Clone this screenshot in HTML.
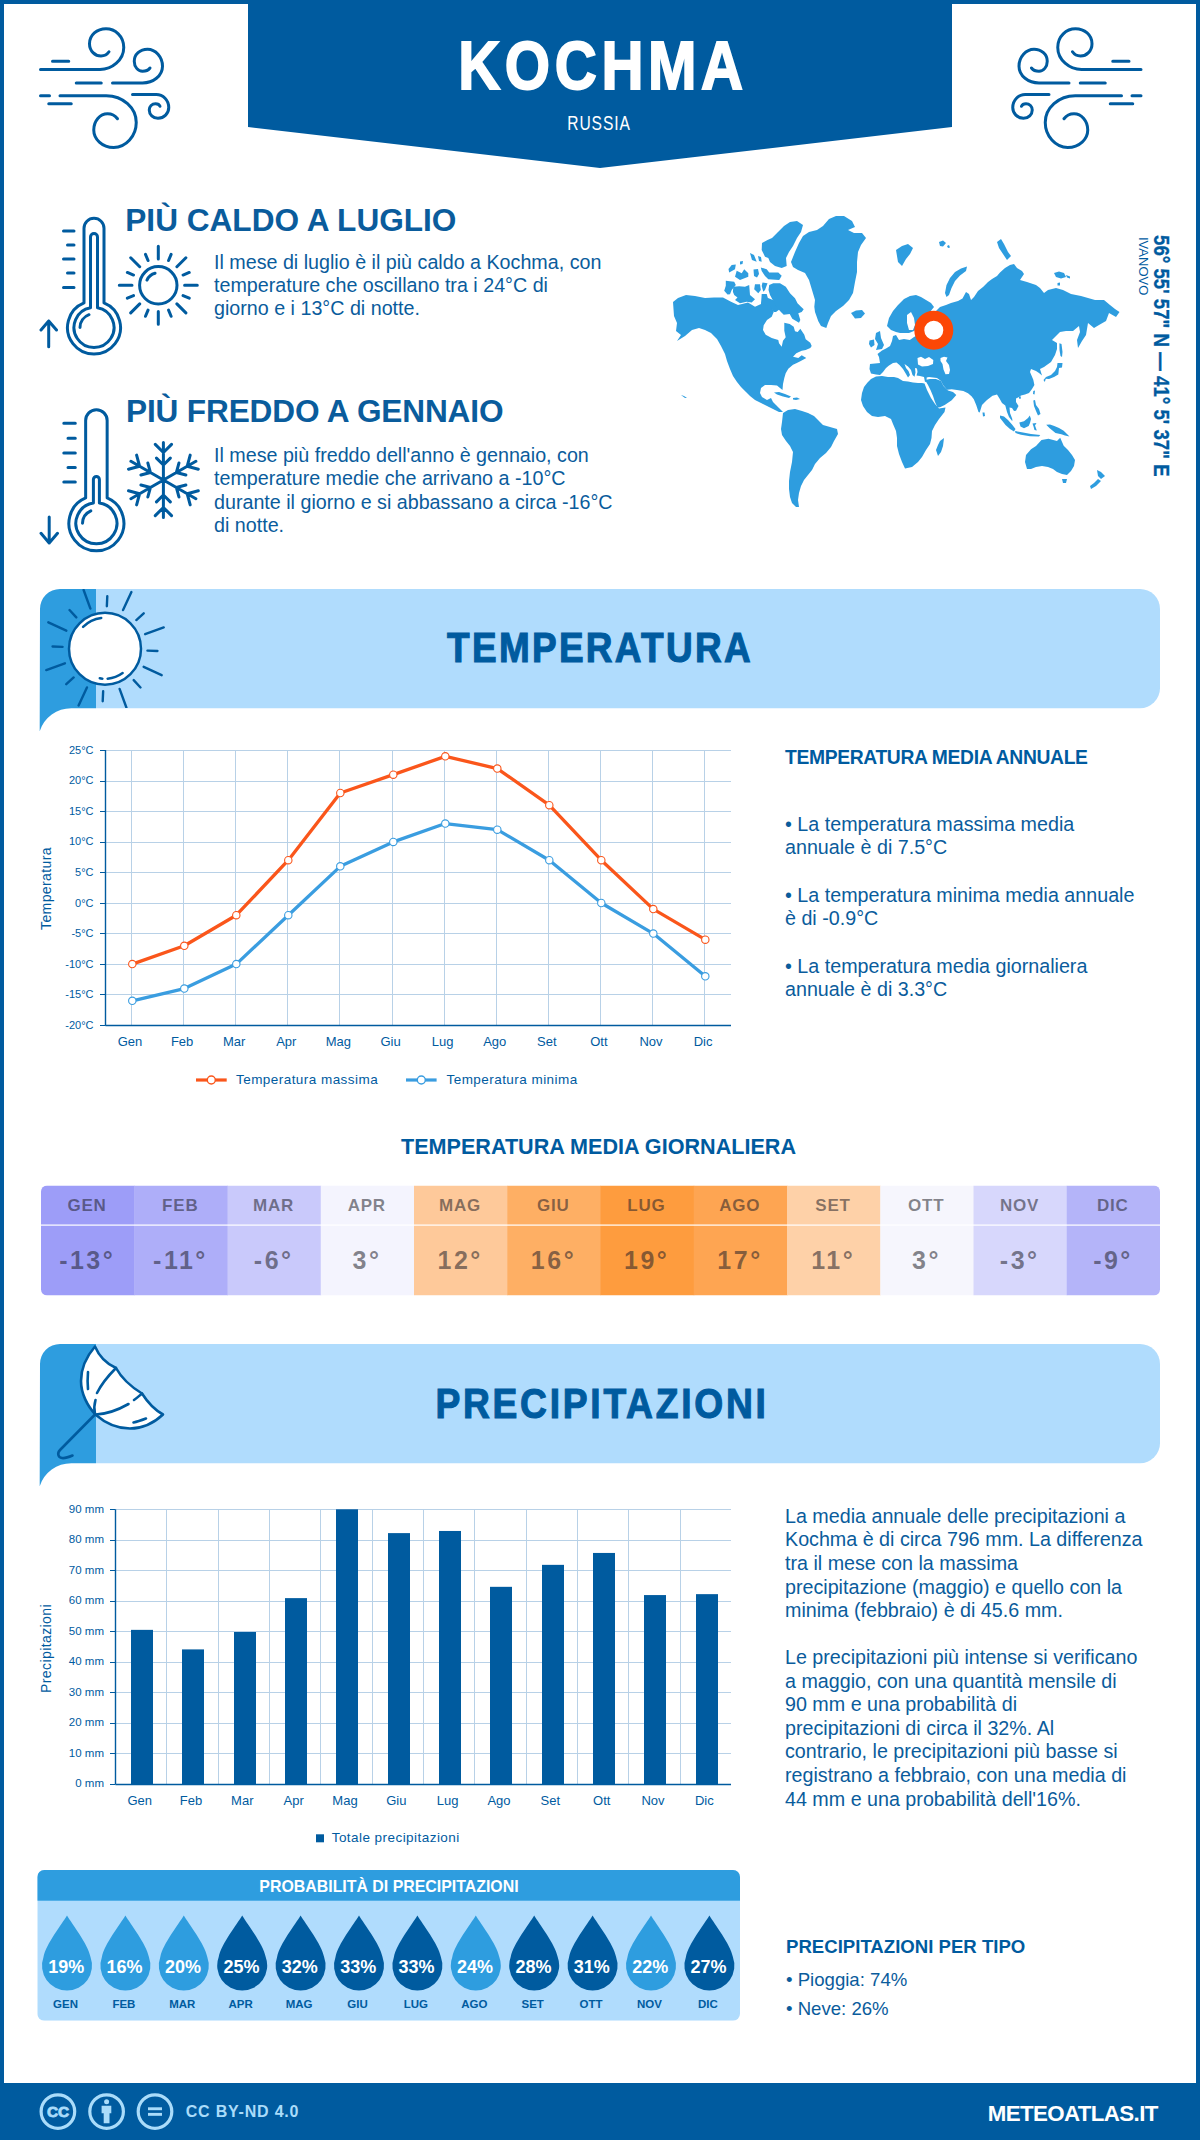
<!DOCTYPE html><html><head><meta charset="utf-8"><style>
*{margin:0;padding:0;box-sizing:border-box}
html,body{width:1200px;height:2140px;overflow:hidden;background:#fff}
body{position:relative;font-family:"Liberation Sans",sans-serif}
.t{position:absolute;white-space:nowrap;line-height:1;font-family:"Liberation Sans",sans-serif}
svg{position:absolute;left:0;top:0}
</style></head><body>
<svg width="1200" height="2140" viewBox="0 0 1200 2140"><rect x="0" y="0" width="1200" height="2140" fill="#005b9f"/><rect x="4" y="4" width="1192" height="2079" fill="#fff"/><polygon points="248,0 952,0 952,127 600,168 248,127" fill="#005b9f"/><path d="M40.5,69.5 H100 C112,69.5 123.75,60 123.75,47.5 C123.75,36 115,28.75 106,28.75 C97,28.75 89.5,35 89.5,43.75 C89.5,51 95,56 101,56 C104.5,56 107.5,54 109,51.75 M52.5,61.25 H68.75 M112.5,83 H142.5 C153,83 162.5,76 162.5,66.25 C162.5,57 155.5,49.25 147.5,49.25 C140,49.25 134.25,54.5 134.25,61.25 C134.25,67 138,71.25 142.5,71.25 C145.5,71.25 148.5,70 150,68 M76.25,83 H101.25 M40.5,95.75 H49.5 M60,95.75 H106.25 C123,95.75 136.25,108 136.25,122.5 C136.25,136 126,147.5 113.75,147.5 C102,147.5 93.75,139 93.75,130 C93.75,121 100,113.75 107.5,113.75 C111.5,113.75 115.5,116 117.5,118.75 M48.75,103.75 H71.25 M132.5,94.5 H156.25 C163,94.5 168.75,100 168.75,107.5 C168.75,113.5 164,118.25 158,118.25 C153,118.25 149.25,114.5 149.25,110 C149.25,106.5 152,103.75 155.5,103.75 C157.5,103.75 159.5,105 160,106.25" fill="none" stroke="#005b9f" stroke-width="3" stroke-linecap="round"/><path d="M40.5,69.5 H100 C112,69.5 123.75,60 123.75,47.5 C123.75,36 115,28.75 106,28.75 C97,28.75 89.5,35 89.5,43.75 C89.5,51 95,56 101,56 C104.5,56 107.5,54 109,51.75 M52.5,61.25 H68.75 M112.5,83 H142.5 C153,83 162.5,76 162.5,66.25 C162.5,57 155.5,49.25 147.5,49.25 C140,49.25 134.25,54.5 134.25,61.25 C134.25,67 138,71.25 142.5,71.25 C145.5,71.25 148.5,70 150,68 M76.25,83 H101.25 M40.5,95.75 H49.5 M60,95.75 H106.25 C123,95.75 136.25,108 136.25,122.5 C136.25,136 126,147.5 113.75,147.5 C102,147.5 93.75,139 93.75,130 C93.75,121 100,113.75 107.5,113.75 C111.5,113.75 115.5,116 117.5,118.75 M48.75,103.75 H71.25 M132.5,94.5 H156.25 C163,94.5 168.75,100 168.75,107.5 C168.75,113.5 164,118.25 158,118.25 C153,118.25 149.25,114.5 149.25,110 C149.25,106.5 152,103.75 155.5,103.75 C157.5,103.75 159.5,105 160,106.25" fill="none" stroke="#005b9f" stroke-width="3" stroke-linecap="round" transform="translate(1181.5,0) scale(-1,1)"/><path d="M84,302.96 V228.3 A10,10 0 0 1 104,228.3 V302.96 A26.5,26.5 0 1 1 84,302.96 Z M90.5,307.81 V237 A3.5,3.5 0 0 1 97.5,237 V307.81 A20,20 0 1 1 90.5,307.81 Z M63.5,231 H74 M67.5,245 H74 M63.5,259 H74 M67.5,273 H74 M63.5,287.5 H74 M48.7,346.7 V321 M41,330 L48.7,321 L56.5,330 M80,327.5 A14,14 0 0 1 89,314.7" fill="none" stroke="#005b9f" stroke-width="3" stroke-linecap="round" stroke-linejoin="round"/><path d="M85.65,497.99 V420.5 A10.75,10.75 0 0 1 107.15,420.5 V497.99 A27.5,27.5 0 1 1 85.65,497.99 Z M93.4,503.02 V479.5 A3,3 0 0 1 99.4,479.5 V503.02 A20.5,20.5 0 1 1 93.4,503.02 Z M63.8,423.3 H75.3 M68,438.3 H75.3 M63.8,453 H75.3 M68,467.5 H75.3 M63.8,482 H75.3 M49.2,517 V543 M41,533.3 L49.2,543 L57.5,533.3 M82.5,523.3 A14,14 0 0 1 90.8,510.8" fill="none" stroke="#005b9f" stroke-width="3" stroke-linecap="round" stroke-linejoin="round"/><circle cx="158.3" cy="285.3" r="18.7" fill="none" stroke="#005b9f" stroke-width="3"/><path d="M184.60,285.30 L197.30,285.30 M183.06,275.04 L189.25,272.48 M176.90,266.70 L185.88,257.72 M168.56,260.54 L171.12,254.35 M158.30,259.00 L158.30,246.30 M148.04,260.54 L145.48,254.35 M139.70,266.70 L130.72,257.72 M133.54,275.04 L127.35,272.48 M132.00,285.30 L119.30,285.30 M133.54,295.56 L127.35,298.12 M139.70,303.90 L130.72,312.88 M148.04,310.06 L145.48,316.25 M158.30,311.60 L158.30,324.30 M168.56,310.06 L171.12,316.25 M176.90,303.90 L185.88,312.88 M183.06,295.56 L189.25,298.12 " fill="none" stroke="#005b9f" stroke-width="3" stroke-linecap="round"/><path d="M146.97,280.02 A12.5,12.5 0 0 1 155.06,273.23" fill="none" stroke="#005b9f" stroke-width="3" stroke-linecap="round"/><path d="M163.40,480.00 L163.40,442.50 M163.40,452.50 L171.53,444.37 M163.40,452.50 L155.27,444.37 M163.40,465.00 L170.33,458.07 M163.40,465.00 L156.47,458.07 M163.40,480.00 L130.92,461.25 M139.58,466.25 L136.61,455.14 M139.58,466.25 L128.48,469.23 M150.41,472.50 L147.87,463.03 M150.41,472.50 L140.94,475.04 M163.40,480.00 L130.92,498.75 M139.58,493.75 L128.48,490.77 M139.58,493.75 L136.61,504.86 M150.41,487.50 L140.94,484.96 M150.41,487.50 L147.87,496.97 M163.40,480.00 L163.40,517.50 M163.40,507.50 L155.27,515.63 M163.40,507.50 L171.53,515.63 M163.40,495.00 L156.47,501.93 M163.40,495.00 L170.33,501.93 M163.40,480.00 L195.88,498.75 M187.22,493.75 L190.19,504.86 M187.22,493.75 L198.32,490.77 M176.39,487.50 L178.93,496.97 M176.39,487.50 L185.86,484.96 M163.40,480.00 L195.88,461.25 M187.22,466.25 L198.32,469.23 M187.22,466.25 L190.19,455.14 M176.39,472.50 L185.86,475.04 M176.39,472.50 L178.93,463.03 " fill="none" stroke="#005b9f" stroke-width="3" stroke-linecap="round"/><polygon points="673,302 678,298 686,295 695,296 705,298 714,297.5 723,297.5 731,301.7 738,305 748,302.5 755,306.7 761,304 761.7,294 766.7,294 769.2,302.5 772,307 773.7,312 771.7,316.7 767,320 763.7,325.3 763,330 765.7,334.7 771.7,338 778.3,340 779,343.3 781.7,346.7 783,340.7 785.7,337.3 784.3,330.7 784.3,322.7 789.7,324 793.7,326.7 795,331.3 797.7,332 800.3,328.7 804.3,334.7 805.7,339.3 810.3,342.7 811.7,346 810.3,348 805.7,350 801.7,350.7 796.3,353.3 793,356.7 798.3,358 801.7,355.3 806.3,358 800.3,361.3 796.3,363.3 793,364.7 788.3,368.7 785.7,373.3 784.3,378 783,384 782.5,390 780,388 777,385.5 771,385 765,385 761,388 760,393 762,397 767,400 771,398 773,402 776,405 779,408 783,412 779,412 773,409 767,406 761,403 755,400 750,396 746,392 741,387 737,382 733,376 730,369 727,361 725,354 721,346 717,339 711,333 705,330 699,328 692,330 685,336 677,341 681,335 676,331 677,323 674,316" fill="#2e9ddf"/><polygon points="761,304 763,298 768,298 773,300 778,304 780,309 776,312 773.7,312 770,306" fill="#2e9ddf"/><polygon points="791,262 795,252 799,243 803,236 809,232 817,230 823,226 829,219 836,216 844,216 852,221 855,227 848,230 854,233 862,233 866,238 861,245 858,252 857,262 857,272 855,282 853,293 849,300 843,306 836,311 831,316 828,323 826.3,328 821,326 818.3,321.3 815,312 814.3,306.7 815,300 812,290 809,280 805,273 798,270 793,267" fill="#2e9ddf"/><polygon points="762,243 767.5,240 772,238 778,232 784,226 790,222 797,221 803,225 801,232 797,238 793,246 789,252 786,258 786.7,266 781.7,268 775,266 770,262 768.3,258 765,256.7 761.7,250" fill="#2e9ddf"/><polygon points="760.8,267.5 766.7,269.2 769.2,272.5 778.3,272.5 781.7,275.7 779.2,280 768.3,279.2 765,276 761.7,271" fill="#2e9ddf"/><polygon points="769.2,285 773.3,283.3 780,283.3 785.8,286.7 790,293.3 795,298.3 797.5,303.3 801,306.7 803.7,309.3 801.7,312 798.3,313.3 800.3,320 799,322.7 792.3,318.7 789.7,314 783.7,314.7 780,311 776,306 773,300.5 770,295 768.5,290" fill="#2e9ddf"/><polygon points="725.8,280.8 734.2,281.7 735.8,285 731.7,290 730,294.2 727.5,294.6 724.2,290.8 725.8,285.8" fill="#2e9ddf"/><polygon points="733.3,286.7 739.2,286.2 745,286.7 749.2,285 750,295 755,299.2 751.7,302.5 746.7,301.7 740,303.3 735,300 737.5,297.5 734.2,295 732.9,291.7" fill="#2e9ddf"/><polygon points="755,284.2 760,284.2 760.8,290 758.3,293.3 754.2,289.2" fill="#2e9ddf"/><polygon points="762.5,282.5 767.5,283.3 765,290 763.3,291.7 761.7,286" fill="#2e9ddf"/><polygon points="731.7,265 735.8,264.6 735,269.2 729.2,272.5 728.5,269" fill="#2e9ddf"/><polygon points="736.7,270.8 741.7,273.3 744.2,269.2 748.3,273.3 748.3,276.7 740,280 735,276.7" fill="#2e9ddf"/><polygon points="753.5,269.5 758,269 759,274 757,277.5 754,276" fill="#2e9ddf"/><polygon points="750,253 754,255 756.7,261.7 752,260" fill="#2e9ddf"/><polygon points="758,256 761,257 761.7,261.7 759,261" fill="#2e9ddf"/><polygon points="740,261.5 743,261 742.5,264 740,264.5" fill="#2e9ddf"/><polygon points="851,313 856,310.5 862,310 865,313.5 861,318 855,318.5" fill="#2e9ddf"/><polygon points="876,333 880,331 881,338 884,345 882,349 876,350 878,344 875,339" fill="#2e9ddf"/><polygon points="869.5,340.5 874,339.5 874.5,345 871,347.5 869,344" fill="#2e9ddf"/><polygon points="896,250 902,246 908,244 913,248 910,254 906,259 902,266 898,262" fill="#2e9ddf"/><polygon points="945,293 946.5,285 950,278 955,272 961,268.5 967,266.5 966,271 960,275.5 955,281 951.5,288 949,295 946.5,297" fill="#2e9ddf"/><polygon points="997,242 1001,239 1004,244 1008,252 1011,256 1007,260 1003,254 999,248" fill="#2e9ddf"/><polygon points="1054,273 1059,271.5 1064,273 1066,277 1061,278.5 1056,277" fill="#2e9ddf"/><polygon points="1066,275 1070,276.5 1070,278.5 1067,277.5" fill="#2e9ddf"/><polygon points="1057.5,283 1060,282.5 1060,285.5 1057.5,285.5" fill="#2e9ddf"/><polygon points="870,364 875,363.5 880,363 879,357 877.5,354 882,350.5 886,348.5 890,346 892,341 893,336 896,335 899,340 904,339 909.8,340 914,337 916.3,335.7 919,331 924,327 929,323 932,317 936,311 940,307 946,305 951,303 958,301 962.5,298.5 966,292 969,294 971,300 974,297 978,291 983,287 988,282 992,279 997,276 1000,272.5 1005,268 1010,265 1014,264 1017,268 1022,271 1024,274 1020,280 1027,282 1036,285 1040,288 1044,293 1048,290 1056,288 1063,290 1071,294 1081,296 1088,298 1095,300 1104,300 1110,305 1115,309 1119.5,312 1116,317 1109,313 1106,321 1099,325 1094,328 1088,323 1087,329 1086,335 1082,341 1078,348 1077,340 1080,332 1079,326 1073,331 1066,331 1060,332 1056,336 1052,340 1057,343 1057,349 1055,355 1051,362 1044,367 1040,369 1042,375.5 1039,373 1036,371 1031,369 1030,372 1033.3,379.8 1034.4,385 1032,389 1029,393 1025,394.5 1021,395.5 1019,397 1016,398.5 1016,402 1018.5,406 1016,410.8 1014,411 1012,408 1009.5,407.5 1010,413 1012.3,419 1012.3,421.3 1009,417 1007,412 1005.3,405.5 1002,403 999.5,398.5 997,394.5 992.5,395.7 986.7,400.3 982,405 979.7,412.6 978.5,412 976.2,405 973.8,399.2 971.5,396.3 968,393.3 963.3,391 957,390 951.7,389.3 947,389.8 943,385 941,381 937,378 933,377.5 929,377 926.7,377.5 926.5,381.5 925,382 924,377 920,376 916.5,375.5 917.5,372 917,368.5 915,368 915.5,372.5 914.5,376.7 912.5,375 911,370 908,366.5 904.5,364 906,368 908.5,371 910,375 908,377.5 906,374 903,369 899.5,365 896.5,362.5 893,363 889,365.5 886,368 883,372 880,375 876,374.5 871,373.5 869.5,369" fill="#2e9ddf"/><polygon points="887,326 889,318 893,311 898,305 904,299 910,296 916,295 921,297 926,300 931,303 934,307 930,312 925,316 921,321 918,327 914,331 909,333 904,333 900,333 896,332 891,330" fill="#2e9ddf"/><polygon points="925,380 928,385 930.5,390 933,396 935,402 937.5,407.5 940,407.3 944.7,405 951.7,400.3 956.3,395 953,392 948,390.5 943.5,386 941,381 936,379 930,379" fill="#2e9ddf"/><polygon points="862,393 864,387 867.5,382.5 871,379 876,376.5 882,376 888,377 894,377 898,378 903,381 908,381.5 913,382.5 918,383 922,383 924.5,383.5 927,390 931,398 935,404 939,408.5 945.5,407.4 944.5,412 939,419 935,425 932,431 931.5,438 930,444 926,450 922,457 918,462 912,467 905,468.5 902,462 899,454 897,446 897,438 896,431 893,424 891,419 885,416 878,417 872,416 867,412 863,406 861,400" fill="#2e9ddf"/><polygon points="940,441 944,438 943,446 941,452 938,456 936,450 938,445" fill="#2e9ddf"/><polygon points="783,413 788,410 795,409 802,411 808,413 814,416 818,420 823,425 830,427 837,429 838,434 834,441 831,447 826,453 820,458 815,464 812,470 808,475 804,480 801,486 799,493 798,500 799,507 796,507 792,503 790,497 789,489 789,481 790,472 792,462 793,452 790,446 786,441 782,435 781,429 782,422" fill="#2e9ddf"/><polygon points="982.5,412.5 984.5,412.5 985,416 983,416.5" fill="#2e9ddf"/><polygon points="1000,415.5 1004,416.5 1008,420 1012,424.5 1015.5,429 1014,431.5 1010,429 1005.5,425 1002,420.5 1000,418" fill="#2e9ddf"/><polygon points="1015,431 1021.7,432.3 1031,434 1040.3,435 1039,436.5 1030,436.3 1021,434.8 1015.5,433" fill="#2e9ddf"/><polygon points="1019.3,422.5 1024,421.3 1028,418 1029.8,415.5 1031,419 1030,423 1028.7,426 1024,428.3 1020.5,426.5" fill="#2e9ddf"/><polygon points="1032.5,423.5 1036.5,423 1035,425.5 1036.8,430.5 1034.5,430 1033.5,426.5" fill="#2e9ddf"/><polygon points="1046.2,424.8 1050,424.5 1054.3,426 1059,428 1063.7,430.7 1067,434 1069.5,436.5 1065,435.5 1061.3,434.2 1055.5,433 1049.7,428.3" fill="#2e9ddf"/><polygon points="1033.3,400.5 1035,400 1036,405 1039,409 1040.5,414 1038,415.5 1036,411 1034,406" fill="#2e9ddf"/><polygon points="1033.3,391 1035,390.5 1034.5,394.5 1033,394" fill="#2e9ddf"/><polygon points="1019,396.5 1021,396.5 1020.5,399 1019,398.5" fill="#2e9ddf"/><polygon points="1057.5,363 1062.5,363 1062,367.5 1059,368 1058.3,374.6 1054,377 1049,379 1045.8,378.75 1044.8,381.9 1043.5,380 1046,377 1051,375 1055,371 1057,367" fill="#2e9ddf"/><polygon points="1059.4,343.3 1061.5,344 1062.5,352 1062,357 1060.5,356 1059.5,350" fill="#2e9ddf"/><polygon points="1025,462 1026,455 1031,449.3 1036,446 1041.5,440 1048.5,438.8 1053.2,440 1057,441 1060.2,437.7 1063.7,445.8 1068,450 1072,455 1075,460 1074,466 1071,471 1067,475 1062,474 1057,472 1053,469 1048,467 1042,466 1036,467 1031,469 1027,469" fill="#2e9ddf"/><polygon points="1062,479 1067,479 1066,483 1063,483" fill="#2e9ddf"/><polygon points="1097,470 1101,472 1105,476 1101,479 1098,476" fill="#2e9ddf"/><polygon points="1098,479 1101,481 1096,486 1091,489 1090,486 1094,483" fill="#2e9ddf"/><polygon points="681,395 684,396 687,398 685,398" fill="#2e9ddf"/><polygon points="774,392.5 779,392 785,394 791,396.5 789,398 783,396.5 777,394.5" fill="#2e9ddf"/><polygon points="793,398 797,397.5 800,399 796,400 793,399.5" fill="#2e9ddf"/><polygon points="939,242 943,240.5 946,243 943,246.5 940,246" fill="#2e9ddf"/><polygon points="947,246 949,245 950,247.5 948,248" fill="#2e9ddf"/><polygon points="917.5,358 921,356.7 925,359 929,357 933.3,360 933,364 928,366 922,366.5 918,364.5" fill="#fff"/><polygon points="940.5,358 944,356.7 947.5,357.5 946,361 949,365 950,370 949,374 945.5,374.3 943.5,369.5 942.5,364 940.5,361" fill="#fff"/><polygon points="907,315 911,312 914,318 915,325 913,330 909,330 907,323" fill="#fff"/><circle cx="933.8" cy="330.2" r="14.5" fill="#fff" stroke="#fc4706" stroke-width="10"/><path d="M40,609 A20,20 0 0 1 60,589 H96 V708.2 H71.3 A33.2,33.2 0 0 0 39.7,731.3000000000001 Z" fill="#2e9ddf"/><path d="M96,589 H1140 A20,20 0 0 1 1160,609 V688.2 A20,20 0 0 1 1140,708.2 H96 Z" fill="#b0dcfd"/><path d="M40,1364 A20,20 0 0 1 60,1344 H96 V1463.2 H71.3 A33.2,33.2 0 0 0 39.7,1486.3 Z" fill="#2e9ddf"/><path d="M96,1344 H1140 A20,20 0 0 1 1160,1364 V1443.2 A20,20 0 0 1 1140,1463.2 H96 Z" fill="#b0dcfd"/><circle cx="105" cy="648.75" r="36" fill="#fff" stroke="#005b9f" stroke-width="2.5"/><clipPath id="sb"><rect x="0" y="589" width="400" height="119"/></clipPath><path clip-path="url(#sb)" d="M145.12,634.15 L163.73,627.37 M136.33,620.04 L143.71,613.28 M123.05,610.05 L131.41,592.11 M106.85,606.29 L107.29,596.30 M90.40,608.63 L83.62,590.02 M76.29,617.42 L69.53,610.04 M66.30,630.70 L48.36,622.34 M62.54,646.90 L52.55,646.46 M64.88,663.35 L46.27,670.13 M73.67,677.46 L66.29,684.22 M86.95,687.45 L78.59,705.39 M103.15,691.21 L102.71,701.20 M119.60,688.87 L126.38,707.48 M133.71,680.08 L140.47,687.46 M143.70,666.80 L161.64,675.16 M147.46,650.60 L157.45,651.04 " fill="none" stroke="#005b9f" stroke-width="2.4" stroke-linecap="round"/><path d="M83.08,626.83 A31,31 0 0 1 101.22,617.98" fill="none" stroke="#005b9f" stroke-width="2.5" stroke-linecap="round"/><path d="M107.61,678.64 A30,30 0 0 0 122.63,673.02" fill="none" stroke="#005b9f" stroke-width="2.5" stroke-linecap="round"/><path d="M99.79,678.29 A30,30 0 0 0 102.39,678.64" fill="none" stroke="#005b9f" stroke-width="2.5" stroke-linecap="round"/><path d="M95,1346.5 C86,1357 81,1369 81,1381 C81,1393 87,1406 96,1415 C104,1422 116,1428.5 130,1428.5 C143,1428.5 155,1422 163,1414.5 C155,1410 148,1403 142,1393.5 C133,1388 122,1379 116,1368 C107,1364 99,1356 95,1346.5 Z" fill="#fff" stroke="#005b9f" stroke-width="2.6" stroke-linejoin="round"/><path d="M116,1368 C108,1376 101,1385 97,1393 M95.5,1400 C94,1405 94,1410 95,1414.5 M142,1393.5 C139,1396 137,1398 134,1400 M128.5,1404 C118,1410 106,1414 96,1414.5 M88,1372 C87.5,1378 87.5,1384 88,1389 M133.5,1422.5 C138,1421.5 142,1420 146,1418.5 M95,1414.5 L60,1450 C57,1453 58,1457.5 62,1458 C65,1458.5 69,1457 72.5,1455.5" fill="none" stroke="#005b9f" stroke-width="2.6" stroke-linecap="round"/></svg>
<div class="t" style="left:3.3px;width:1200px;text-align:center;top:32.3px;font-size:68.5px;font-weight:700;color:#fff;letter-spacing:5.4px;transform:scaleX(0.85);-webkit-text-stroke:1.9px #fff;">KOCHMA</div>
<div class="t" style="left:-0.6px;width:1200px;text-align:center;top:114.3px;font-size:19.5px;font-weight:400;color:#fff;letter-spacing:1.1px;transform:scaleX(0.8);">RUSSIA</div>
<div class="t" style="left:125.3px;top:205.3px;font-size:31.6px;font-weight:700;color:#0a5c9c;letter-spacing:0px;">PIÙ CALDO A LUGLIO</div>
<div class="t" style="left:214.0px;top:252.7px;font-size:19.7px;font-weight:400;color:#0a5c9c;">Il mese di luglio è il più caldo a Kochma, con</div>
<div class="t" style="left:214.0px;top:275.8px;font-size:19.7px;font-weight:400;color:#0a5c9c;">temperature che oscillano tra i 24°C di</div>
<div class="t" style="left:214.0px;top:298.9px;font-size:19.7px;font-weight:400;color:#0a5c9c;">giorno e i 13°C di notte.</div>
<div class="t" style="left:126.0px;top:396.3px;font-size:31.6px;font-weight:700;color:#0a5c9c;letter-spacing:-0.15px;">PIÙ FREDDO A GENNAIO</div>
<div class="t" style="left:214.0px;top:445.9px;font-size:19.7px;font-weight:400;color:#0a5c9c;">Il mese più freddo dell'anno è gennaio, con</div>
<div class="t" style="left:214.0px;top:469.4px;font-size:19.7px;font-weight:400;color:#0a5c9c;">temperature medie che arrivano a -10°C</div>
<div class="t" style="left:214.0px;top:492.8px;font-size:19.7px;font-weight:400;color:#0a5c9c;">durante il giorno e si abbassano a circa -16°C</div>
<div class="t" style="left:214.0px;top:516.3px;font-size:19.7px;font-weight:400;color:#0a5c9c;">di notte.</div>

<div class="t" style="left:1160px;top:235px;font-size:21.5px;font-weight:700;color:#005b9f;transform-origin:0 0;transform:rotate(90deg) translate(0,-50%) scaleX(0.868);letter-spacing:0px;-webkit-text-stroke:0.3px #005b9f">56° 55' 57" N — 41° 5' 37" E</div>
<div class="t" style="left:1142.5px;top:236.5px;font-size:13px;font-weight:400;color:#005b9f;transform-origin:0 0;transform:rotate(90deg) translate(0,-50%)">IVANOVO</div>
<div class="t" style="left:0.0px;width:1200px;text-align:center;top:626.8px;font-size:42px;font-weight:700;color:#005b9f;letter-spacing:2.6px;transform:scaleX(0.88);-webkit-text-stroke:1.1px #005b9f;">TEMPERATURA</div>
<div class="t" style="left:2.3px;width:1200px;text-align:center;top:1383.2px;font-size:42.3px;font-weight:700;color:#005b9f;letter-spacing:3.1px;transform:scaleX(0.88);-webkit-text-stroke:1.1px #005b9f;">PRECIPITAZIONI</div>
<svg width="1200" height="2140" viewBox="0 0 1200 2140"><line x1="105.7" y1="750.50" x2="731" y2="750.50" stroke="#b8d1e7" stroke-width="1"/><line x1="100" y1="750.50" x2="105.7" y2="750.50" stroke="#005b9f" stroke-width="1"/><line x1="105.7" y1="781.50" x2="731" y2="781.50" stroke="#b8d1e7" stroke-width="1"/><line x1="100" y1="781.50" x2="105.7" y2="781.50" stroke="#005b9f" stroke-width="1"/><line x1="105.7" y1="811.50" x2="731" y2="811.50" stroke="#b8d1e7" stroke-width="1"/><line x1="100" y1="811.50" x2="105.7" y2="811.50" stroke="#005b9f" stroke-width="1"/><line x1="105.7" y1="842.50" x2="731" y2="842.50" stroke="#b8d1e7" stroke-width="1"/><line x1="100" y1="842.50" x2="105.7" y2="842.50" stroke="#005b9f" stroke-width="1"/><line x1="105.7" y1="872.50" x2="731" y2="872.50" stroke="#b8d1e7" stroke-width="1"/><line x1="100" y1="872.50" x2="105.7" y2="872.50" stroke="#005b9f" stroke-width="1"/><line x1="105.7" y1="903.50" x2="731" y2="903.50" stroke="#b8d1e7" stroke-width="1"/><line x1="100" y1="903.50" x2="105.7" y2="903.50" stroke="#005b9f" stroke-width="1"/><line x1="105.7" y1="933.50" x2="731" y2="933.50" stroke="#b8d1e7" stroke-width="1"/><line x1="100" y1="933.50" x2="105.7" y2="933.50" stroke="#005b9f" stroke-width="1"/><line x1="105.7" y1="964.50" x2="731" y2="964.50" stroke="#b8d1e7" stroke-width="1"/><line x1="100" y1="964.50" x2="105.7" y2="964.50" stroke="#005b9f" stroke-width="1"/><line x1="105.7" y1="994.50" x2="731" y2="994.50" stroke="#b8d1e7" stroke-width="1"/><line x1="100" y1="994.50" x2="105.7" y2="994.50" stroke="#005b9f" stroke-width="1"/><line x1="105.7" y1="1025.50" x2="731" y2="1025.50" stroke="#b8d1e7" stroke-width="1"/><line x1="100" y1="1025.50" x2="105.7" y2="1025.50" stroke="#005b9f" stroke-width="1"/><line x1="131.50" y1="750" x2="131.50" y2="1025" stroke="#b8d1e7" stroke-width="1"/><line x1="183.50" y1="750" x2="183.50" y2="1025" stroke="#b8d1e7" stroke-width="1"/><line x1="235.50" y1="750" x2="235.50" y2="1025" stroke="#b8d1e7" stroke-width="1"/><line x1="287.50" y1="750" x2="287.50" y2="1025" stroke="#b8d1e7" stroke-width="1"/><line x1="339.50" y1="750" x2="339.50" y2="1025" stroke="#b8d1e7" stroke-width="1"/><line x1="392.50" y1="750" x2="392.50" y2="1025" stroke="#b8d1e7" stroke-width="1"/><line x1="444.50" y1="750" x2="444.50" y2="1025" stroke="#b8d1e7" stroke-width="1"/><line x1="496.50" y1="750" x2="496.50" y2="1025" stroke="#b8d1e7" stroke-width="1"/><line x1="548.50" y1="750" x2="548.50" y2="1025" stroke="#b8d1e7" stroke-width="1"/><line x1="600.50" y1="750" x2="600.50" y2="1025" stroke="#b8d1e7" stroke-width="1"/><line x1="652.50" y1="750" x2="652.50" y2="1025" stroke="#b8d1e7" stroke-width="1"/><line x1="704.50" y1="750" x2="704.50" y2="1025" stroke="#b8d1e7" stroke-width="1"/><line x1="105.5" y1="750" x2="105.5" y2="1025.5" stroke="#005b9f" stroke-width="1.4"/><line x1="105.5" y1="1025.5" x2="731" y2="1025.5" stroke="#005b9f" stroke-width="1.4"/><polyline points="132.30,964.11 184.30,945.78 236.30,915.22 288.30,860.22 340.30,793.00 393.30,774.67 445.30,756.34 497.30,768.56 549.30,805.22 601.30,860.22 653.30,909.11 705.30,939.67" fill="none" stroke="#fa561b" stroke-width="3.3" stroke-linejoin="round"/><circle cx="132.30" cy="964.11" r="3.7" fill="#fff" stroke="#fa561b" stroke-width="1.1"/><circle cx="184.30" cy="945.78" r="3.7" fill="#fff" stroke="#fa561b" stroke-width="1.1"/><circle cx="236.30" cy="915.22" r="3.7" fill="#fff" stroke="#fa561b" stroke-width="1.1"/><circle cx="288.30" cy="860.22" r="3.7" fill="#fff" stroke="#fa561b" stroke-width="1.1"/><circle cx="340.30" cy="793.00" r="3.7" fill="#fff" stroke="#fa561b" stroke-width="1.1"/><circle cx="393.30" cy="774.67" r="3.7" fill="#fff" stroke="#fa561b" stroke-width="1.1"/><circle cx="445.30" cy="756.34" r="3.7" fill="#fff" stroke="#fa561b" stroke-width="1.1"/><circle cx="497.30" cy="768.56" r="3.7" fill="#fff" stroke="#fa561b" stroke-width="1.1"/><circle cx="549.30" cy="805.22" r="3.7" fill="#fff" stroke="#fa561b" stroke-width="1.1"/><circle cx="601.30" cy="860.22" r="3.7" fill="#fff" stroke="#fa561b" stroke-width="1.1"/><circle cx="653.30" cy="909.11" r="3.7" fill="#fff" stroke="#fa561b" stroke-width="1.1"/><circle cx="705.30" cy="939.67" r="3.7" fill="#fff" stroke="#fa561b" stroke-width="1.1"/><polyline points="132.30,1000.78 184.30,988.55 236.30,964.11 288.30,915.22 340.30,866.33 393.30,841.89 445.30,823.56 497.30,829.67 549.30,860.22 601.30,903.00 653.30,933.55 705.30,976.33" fill="none" stroke="#3a9de0" stroke-width="3.3" stroke-linejoin="round"/><circle cx="132.30" cy="1000.78" r="3.7" fill="#fff" stroke="#3a9de0" stroke-width="1.1"/><circle cx="184.30" cy="988.55" r="3.7" fill="#fff" stroke="#3a9de0" stroke-width="1.1"/><circle cx="236.30" cy="964.11" r="3.7" fill="#fff" stroke="#3a9de0" stroke-width="1.1"/><circle cx="288.30" cy="915.22" r="3.7" fill="#fff" stroke="#3a9de0" stroke-width="1.1"/><circle cx="340.30" cy="866.33" r="3.7" fill="#fff" stroke="#3a9de0" stroke-width="1.1"/><circle cx="393.30" cy="841.89" r="3.7" fill="#fff" stroke="#3a9de0" stroke-width="1.1"/><circle cx="445.30" cy="823.56" r="3.7" fill="#fff" stroke="#3a9de0" stroke-width="1.1"/><circle cx="497.30" cy="829.67" r="3.7" fill="#fff" stroke="#3a9de0" stroke-width="1.1"/><circle cx="549.30" cy="860.22" r="3.7" fill="#fff" stroke="#3a9de0" stroke-width="1.1"/><circle cx="601.30" cy="903.00" r="3.7" fill="#fff" stroke="#3a9de0" stroke-width="1.1"/><circle cx="653.30" cy="933.55" r="3.7" fill="#fff" stroke="#3a9de0" stroke-width="1.1"/><circle cx="705.30" cy="976.33" r="3.7" fill="#fff" stroke="#3a9de0" stroke-width="1.1"/><line x1="196" y1="1080" x2="226.7" y2="1080" stroke="#fa561b" stroke-width="3.2"/><circle cx="211.3" cy="1080" r="4" fill="#fff" stroke="#fa561b" stroke-width="1.4"/><line x1="406" y1="1080" x2="436.6" y2="1080" stroke="#3a9de0" stroke-width="3.2"/><circle cx="421.3" cy="1080" r="4" fill="#fff" stroke="#3a9de0" stroke-width="1.4"/><line x1="115" y1="1784.50" x2="731" y2="1784.50" stroke="#b8d1e7" stroke-width="1"/><line x1="110" y1="1784.50" x2="115" y2="1784.50" stroke="#005b9f" stroke-width="1"/><line x1="115" y1="1753.50" x2="731" y2="1753.50" stroke="#b8d1e7" stroke-width="1"/><line x1="110" y1="1753.50" x2="115" y2="1753.50" stroke="#005b9f" stroke-width="1"/><line x1="115" y1="1723.50" x2="731" y2="1723.50" stroke="#b8d1e7" stroke-width="1"/><line x1="110" y1="1723.50" x2="115" y2="1723.50" stroke="#005b9f" stroke-width="1"/><line x1="115" y1="1692.50" x2="731" y2="1692.50" stroke="#b8d1e7" stroke-width="1"/><line x1="110" y1="1692.50" x2="115" y2="1692.50" stroke="#005b9f" stroke-width="1"/><line x1="115" y1="1662.50" x2="731" y2="1662.50" stroke="#b8d1e7" stroke-width="1"/><line x1="110" y1="1662.50" x2="115" y2="1662.50" stroke="#005b9f" stroke-width="1"/><line x1="115" y1="1631.50" x2="731" y2="1631.50" stroke="#b8d1e7" stroke-width="1"/><line x1="110" y1="1631.50" x2="115" y2="1631.50" stroke="#005b9f" stroke-width="1"/><line x1="115" y1="1601.50" x2="731" y2="1601.50" stroke="#b8d1e7" stroke-width="1"/><line x1="110" y1="1601.50" x2="115" y2="1601.50" stroke="#005b9f" stroke-width="1"/><line x1="115" y1="1570.50" x2="731" y2="1570.50" stroke="#b8d1e7" stroke-width="1"/><line x1="110" y1="1570.50" x2="115" y2="1570.50" stroke="#005b9f" stroke-width="1"/><line x1="115" y1="1540.50" x2="731" y2="1540.50" stroke="#b8d1e7" stroke-width="1"/><line x1="110" y1="1540.50" x2="115" y2="1540.50" stroke="#005b9f" stroke-width="1"/><line x1="115" y1="1509.50" x2="731" y2="1509.50" stroke="#b8d1e7" stroke-width="1"/><line x1="110" y1="1509.50" x2="115" y2="1509.50" stroke="#005b9f" stroke-width="1"/><line x1="166.50" y1="1509.3" x2="166.50" y2="1784" stroke="#b8d1e7" stroke-width="1"/><line x1="218.50" y1="1509.3" x2="218.50" y2="1784" stroke="#b8d1e7" stroke-width="1"/><line x1="269.50" y1="1509.3" x2="269.50" y2="1784" stroke="#b8d1e7" stroke-width="1"/><line x1="320.50" y1="1509.3" x2="320.50" y2="1784" stroke="#b8d1e7" stroke-width="1"/><line x1="372.50" y1="1509.3" x2="372.50" y2="1784" stroke="#b8d1e7" stroke-width="1"/><line x1="423.50" y1="1509.3" x2="423.50" y2="1784" stroke="#b8d1e7" stroke-width="1"/><line x1="474.50" y1="1509.3" x2="474.50" y2="1784" stroke="#b8d1e7" stroke-width="1"/><line x1="526.50" y1="1509.3" x2="526.50" y2="1784" stroke="#b8d1e7" stroke-width="1"/><line x1="577.50" y1="1509.3" x2="577.50" y2="1784" stroke="#b8d1e7" stroke-width="1"/><line x1="628.50" y1="1509.3" x2="628.50" y2="1784" stroke="#b8d1e7" stroke-width="1"/><line x1="680.50" y1="1509.3" x2="680.50" y2="1784" stroke="#b8d1e7" stroke-width="1"/><rect x="131" y="1629.86" width="22" height="154.14" fill="#005b9f"/><rect x="182" y="1649.40" width="22" height="134.60" fill="#005b9f"/><rect x="234" y="1632.00" width="22" height="152.00" fill="#005b9f"/><rect x="285" y="1598.12" width="22" height="185.88" fill="#005b9f"/><rect x="336" y="1509.30" width="22" height="274.70" fill="#005b9f"/><rect x="388" y="1533.11" width="22" height="250.89" fill="#005b9f"/><rect x="439" y="1530.97" width="22" height="253.03" fill="#005b9f"/><rect x="490" y="1586.83" width="22" height="197.17" fill="#005b9f"/><rect x="542" y="1564.85" width="22" height="219.15" fill="#005b9f"/><rect x="593" y="1552.95" width="22" height="231.05" fill="#005b9f"/><rect x="644" y="1595.07" width="22" height="188.93" fill="#005b9f"/><rect x="696" y="1594.15" width="22" height="189.85" fill="#005b9f"/><line x1="115.5" y1="1509.3" x2="115.5" y2="1784.5" stroke="#005b9f" stroke-width="1.4"/><line x1="115.5" y1="1784.5" x2="731" y2="1784.5" stroke="#005b9f" stroke-width="1.4"/><rect x="316" y="1834.3" width="8" height="8" fill="#005b9f"/></svg>
<div class="t" style="right:1106.5px;text-align:right;top:744.7px;font-size:11px;font-weight:400;color:#005b9f;">25°C</div>
<div class="t" style="right:1106.5px;text-align:right;top:775.2px;font-size:11px;font-weight:400;color:#005b9f;">20°C</div>
<div class="t" style="right:1106.5px;text-align:right;top:805.8px;font-size:11px;font-weight:400;color:#005b9f;">15°C</div>
<div class="t" style="right:1106.5px;text-align:right;top:836.4px;font-size:11px;font-weight:400;color:#005b9f;">10°C</div>
<div class="t" style="right:1106.5px;text-align:right;top:866.9px;font-size:11px;font-weight:400;color:#005b9f;">5°C</div>
<div class="t" style="right:1106.5px;text-align:right;top:897.5px;font-size:11px;font-weight:400;color:#005b9f;">0°C</div>
<div class="t" style="right:1106.5px;text-align:right;top:928.0px;font-size:11px;font-weight:400;color:#005b9f;">-5°C</div>
<div class="t" style="right:1106.5px;text-align:right;top:958.6px;font-size:11px;font-weight:400;color:#005b9f;">-10°C</div>
<div class="t" style="right:1106.5px;text-align:right;top:989.1px;font-size:11px;font-weight:400;color:#005b9f;">-15°C</div>
<div class="t" style="right:1106.5px;text-align:right;top:1019.7px;font-size:11px;font-weight:400;color:#005b9f;">-20°C</div>
<div class="t" style="left:-470.0px;width:1200px;text-align:center;top:1035.0px;font-size:13px;font-weight:400;color:#005b9f;">Gen</div>
<div class="t" style="left:-417.9px;width:1200px;text-align:center;top:1035.0px;font-size:13px;font-weight:400;color:#005b9f;">Feb</div>
<div class="t" style="left:-365.8px;width:1200px;text-align:center;top:1035.0px;font-size:13px;font-weight:400;color:#005b9f;">Mar</div>
<div class="t" style="left:-313.7px;width:1200px;text-align:center;top:1035.0px;font-size:13px;font-weight:400;color:#005b9f;">Apr</div>
<div class="t" style="left:-261.6px;width:1200px;text-align:center;top:1035.0px;font-size:13px;font-weight:400;color:#005b9f;">Mag</div>
<div class="t" style="left:-209.5px;width:1200px;text-align:center;top:1035.0px;font-size:13px;font-weight:400;color:#005b9f;">Giu</div>
<div class="t" style="left:-157.4px;width:1200px;text-align:center;top:1035.0px;font-size:13px;font-weight:400;color:#005b9f;">Lug</div>
<div class="t" style="left:-105.3px;width:1200px;text-align:center;top:1035.0px;font-size:13px;font-weight:400;color:#005b9f;">Ago</div>
<div class="t" style="left:-53.2px;width:1200px;text-align:center;top:1035.0px;font-size:13px;font-weight:400;color:#005b9f;">Set</div>
<div class="t" style="left:-1.1px;width:1200px;text-align:center;top:1035.0px;font-size:13px;font-weight:400;color:#005b9f;">Ott</div>
<div class="t" style="left:51.0px;width:1200px;text-align:center;top:1035.0px;font-size:13px;font-weight:400;color:#005b9f;">Nov</div>
<div class="t" style="left:103.1px;width:1200px;text-align:center;top:1035.0px;font-size:13px;font-weight:400;color:#005b9f;">Dic</div>
<div class="t" style="left:-4px;top:881.5px;width:100px;text-align:center;font-size:14px;letter-spacing:0.4px;color:#005b9f;transform:rotate(-90deg);line-height:13px">Temperatura</div>
<div class="t" style="left:236.0px;top:1073.1px;font-size:13.5px;font-weight:400;color:#005b9f;letter-spacing:0.45px;">Temperatura massima</div>
<div class="t" style="left:446.5px;top:1073.1px;font-size:13.5px;font-weight:400;color:#005b9f;letter-spacing:0.45px;">Temperatura minima</div>
<div class="t" style="right:1096.0px;text-align:right;top:1778.3px;font-size:11.5px;font-weight:400;color:#005b9f;">0 mm</div>
<div class="t" style="right:1096.0px;text-align:right;top:1747.7px;font-size:11.5px;font-weight:400;color:#005b9f;">10 mm</div>
<div class="t" style="right:1096.0px;text-align:right;top:1717.2px;font-size:11.5px;font-weight:400;color:#005b9f;">20 mm</div>
<div class="t" style="right:1096.0px;text-align:right;top:1686.7px;font-size:11.5px;font-weight:400;color:#005b9f;">30 mm</div>
<div class="t" style="right:1096.0px;text-align:right;top:1656.2px;font-size:11.5px;font-weight:400;color:#005b9f;">40 mm</div>
<div class="t" style="right:1096.0px;text-align:right;top:1625.7px;font-size:11.5px;font-weight:400;color:#005b9f;">50 mm</div>
<div class="t" style="right:1096.0px;text-align:right;top:1595.1px;font-size:11.5px;font-weight:400;color:#005b9f;">60 mm</div>
<div class="t" style="right:1096.0px;text-align:right;top:1564.6px;font-size:11.5px;font-weight:400;color:#005b9f;">70 mm</div>
<div class="t" style="right:1096.0px;text-align:right;top:1534.1px;font-size:11.5px;font-weight:400;color:#005b9f;">80 mm</div>
<div class="t" style="right:1096.0px;text-align:right;top:1503.6px;font-size:11.5px;font-weight:400;color:#005b9f;">90 mm</div>
<div class="t" style="left:-460.3px;width:1200px;text-align:center;top:1794.0px;font-size:13px;font-weight:400;color:#005b9f;">Gen</div>
<div class="t" style="left:-409.0px;width:1200px;text-align:center;top:1794.0px;font-size:13px;font-weight:400;color:#005b9f;">Feb</div>
<div class="t" style="left:-357.7px;width:1200px;text-align:center;top:1794.0px;font-size:13px;font-weight:400;color:#005b9f;">Mar</div>
<div class="t" style="left:-306.3px;width:1200px;text-align:center;top:1794.0px;font-size:13px;font-weight:400;color:#005b9f;">Apr</div>
<div class="t" style="left:-255.0px;width:1200px;text-align:center;top:1794.0px;font-size:13px;font-weight:400;color:#005b9f;">Mag</div>
<div class="t" style="left:-203.7px;width:1200px;text-align:center;top:1794.0px;font-size:13px;font-weight:400;color:#005b9f;">Giu</div>
<div class="t" style="left:-152.3px;width:1200px;text-align:center;top:1794.0px;font-size:13px;font-weight:400;color:#005b9f;">Lug</div>
<div class="t" style="left:-101.0px;width:1200px;text-align:center;top:1794.0px;font-size:13px;font-weight:400;color:#005b9f;">Ago</div>
<div class="t" style="left:-49.7px;width:1200px;text-align:center;top:1794.0px;font-size:13px;font-weight:400;color:#005b9f;">Set</div>
<div class="t" style="left:1.7px;width:1200px;text-align:center;top:1794.0px;font-size:13px;font-weight:400;color:#005b9f;">Ott</div>
<div class="t" style="left:53.0px;width:1200px;text-align:center;top:1794.0px;font-size:13px;font-weight:400;color:#005b9f;">Nov</div>
<div class="t" style="left:104.3px;width:1200px;text-align:center;top:1794.0px;font-size:13px;font-weight:400;color:#005b9f;">Dic</div>
<div class="t" style="left:-14px;top:1641.5px;width:120px;text-align:center;font-size:14px;letter-spacing:0.4px;color:#005b9f;transform:rotate(-90deg);line-height:13px">Precipitazioni</div>
<div class="t" style="left:331.7px;top:1831.1px;font-size:13.5px;font-weight:400;color:#005b9f;letter-spacing:0.45px;">Totale precipitazioni</div>
<div class="t" style="left:785.0px;top:747.7px;font-size:19.3px;font-weight:700;color:#005b9f;letter-spacing:-0.35px;">TEMPERATURA MEDIA ANNUALE</div>
<div class="t" style="left:785.0px;top:814.6px;font-size:19.7px;font-weight:400;color:#0a5c9c;">• La temperatura massima media</div>
<div class="t" style="left:785.0px;top:838.2px;font-size:19.7px;font-weight:400;color:#0a5c9c;">annuale è di 7.5°C</div>
<div class="t" style="left:785.0px;top:885.6px;font-size:19.7px;font-weight:400;color:#0a5c9c;">• La temperatura minima media annuale</div>
<div class="t" style="left:785.0px;top:909.2px;font-size:19.7px;font-weight:400;color:#0a5c9c;">è di -0.9°C</div>
<div class="t" style="left:785.0px;top:956.6px;font-size:19.7px;font-weight:400;color:#0a5c9c;">• La temperatura media giornaliera</div>
<div class="t" style="left:785.0px;top:980.2px;font-size:19.7px;font-weight:400;color:#0a5c9c;">annuale è di 3.3°C</div>
<div class="t" style="left:-1.5px;width:1200px;text-align:center;top:1136.2px;font-size:21.6px;font-weight:700;color:#005b9f;">TEMPERATURA MEDIA GIORNALIERA</div>
<svg width="1200" height="2140" viewBox="0 0 1200 2140"><clipPath id="tc"><rect x="41" y="1185.5" width="1119" height="110" rx="6"/></clipPath><g clip-path="url(#tc)"><rect x="41.00" y="1185.5" width="93.75" height="110" fill="#9d9df8"/><rect x="134.25" y="1185.5" width="93.75" height="110" fill="#aeaef9"/><rect x="227.50" y="1185.5" width="93.75" height="110" fill="#c9c9fb"/><rect x="320.75" y="1185.5" width="93.75" height="110" fill="#f4f4fe"/><rect x="414.00" y="1185.5" width="93.75" height="110" fill="#fec99a"/><rect x="507.25" y="1185.5" width="93.75" height="110" fill="#feaf64"/><rect x="600.50" y="1185.5" width="93.75" height="110" fill="#fe9c3e"/><rect x="693.75" y="1185.5" width="93.75" height="110" fill="#fea552"/><rect x="787.00" y="1185.5" width="93.75" height="110" fill="#fed1a8"/><rect x="880.25" y="1185.5" width="93.75" height="110" fill="#f6f6fd"/><rect x="973.50" y="1185.5" width="93.75" height="110" fill="#d7d7fc"/><rect x="1066.75" y="1185.5" width="93.75" height="110" fill="#b4b4f9"/><rect x="41" y="1224.5" width="1119" height="1.2" fill="#fff"/></g></svg>
<div class="t" style="left:-513.0px;width:1200px;text-align:center;top:1197.4px;font-size:17px;font-weight:700;color:rgba(30,30,40,0.55);letter-spacing:0.8px;">GEN</div>
<div class="t" style="left:-512.8px;width:1200px;text-align:center;top:1248.3px;font-size:25px;font-weight:700;color:rgba(30,30,40,0.55);letter-spacing:2.5px;">-13°</div>
<div class="t" style="left:-419.7px;width:1200px;text-align:center;top:1197.4px;font-size:17px;font-weight:700;color:rgba(30,30,40,0.55);letter-spacing:0.8px;">FEB</div>
<div class="t" style="left:-419.5px;width:1200px;text-align:center;top:1248.3px;font-size:25px;font-weight:700;color:rgba(30,30,40,0.55);letter-spacing:2.5px;">-11°</div>
<div class="t" style="left:-326.5px;width:1200px;text-align:center;top:1197.4px;font-size:17px;font-weight:700;color:rgba(30,30,40,0.55);letter-spacing:0.8px;">MAR</div>
<div class="t" style="left:-326.3px;width:1200px;text-align:center;top:1248.3px;font-size:25px;font-weight:700;color:rgba(30,30,40,0.55);letter-spacing:2.5px;">-6°</div>
<div class="t" style="left:-233.2px;width:1200px;text-align:center;top:1197.4px;font-size:17px;font-weight:700;color:rgba(30,30,40,0.55);letter-spacing:0.8px;">APR</div>
<div class="t" style="left:-233.0px;width:1200px;text-align:center;top:1248.3px;font-size:25px;font-weight:700;color:rgba(30,30,40,0.55);letter-spacing:2.5px;">3°</div>
<div class="t" style="left:-140.0px;width:1200px;text-align:center;top:1197.4px;font-size:17px;font-weight:700;color:rgba(30,30,40,0.55);letter-spacing:0.8px;">MAG</div>
<div class="t" style="left:-139.8px;width:1200px;text-align:center;top:1248.3px;font-size:25px;font-weight:700;color:rgba(30,30,40,0.55);letter-spacing:2.5px;">12°</div>
<div class="t" style="left:-46.7px;width:1200px;text-align:center;top:1197.4px;font-size:17px;font-weight:700;color:rgba(30,30,40,0.55);letter-spacing:0.8px;">GIU</div>
<div class="t" style="left:-46.5px;width:1200px;text-align:center;top:1248.3px;font-size:25px;font-weight:700;color:rgba(30,30,40,0.55);letter-spacing:2.5px;">16°</div>
<div class="t" style="left:46.5px;width:1200px;text-align:center;top:1197.4px;font-size:17px;font-weight:700;color:rgba(30,30,40,0.55);letter-spacing:0.8px;">LUG</div>
<div class="t" style="left:46.7px;width:1200px;text-align:center;top:1248.3px;font-size:25px;font-weight:700;color:rgba(30,30,40,0.55);letter-spacing:2.5px;">19°</div>
<div class="t" style="left:139.8px;width:1200px;text-align:center;top:1197.4px;font-size:17px;font-weight:700;color:rgba(30,30,40,0.55);letter-spacing:0.8px;">AGO</div>
<div class="t" style="left:140.0px;width:1200px;text-align:center;top:1248.3px;font-size:25px;font-weight:700;color:rgba(30,30,40,0.55);letter-spacing:2.5px;">17°</div>
<div class="t" style="left:233.0px;width:1200px;text-align:center;top:1197.4px;font-size:17px;font-weight:700;color:rgba(30,30,40,0.55);letter-spacing:0.8px;">SET</div>
<div class="t" style="left:233.2px;width:1200px;text-align:center;top:1248.3px;font-size:25px;font-weight:700;color:rgba(30,30,40,0.55);letter-spacing:2.5px;">11°</div>
<div class="t" style="left:326.3px;width:1200px;text-align:center;top:1197.4px;font-size:17px;font-weight:700;color:rgba(30,30,40,0.55);letter-spacing:0.8px;">OTT</div>
<div class="t" style="left:326.5px;width:1200px;text-align:center;top:1248.3px;font-size:25px;font-weight:700;color:rgba(30,30,40,0.55);letter-spacing:2.5px;">3°</div>
<div class="t" style="left:419.5px;width:1200px;text-align:center;top:1197.4px;font-size:17px;font-weight:700;color:rgba(30,30,40,0.55);letter-spacing:0.8px;">NOV</div>
<div class="t" style="left:419.7px;width:1200px;text-align:center;top:1248.3px;font-size:25px;font-weight:700;color:rgba(30,30,40,0.55);letter-spacing:2.5px;">-3°</div>
<div class="t" style="left:512.8px;width:1200px;text-align:center;top:1197.4px;font-size:17px;font-weight:700;color:rgba(30,30,40,0.55);letter-spacing:0.8px;">DIC</div>
<div class="t" style="left:513.0px;width:1200px;text-align:center;top:1248.3px;font-size:25px;font-weight:700;color:rgba(30,30,40,0.55);letter-spacing:2.5px;">-9°</div>
<div class="t" style="left:785.0px;top:1506.7px;font-size:19.7px;font-weight:400;color:#0a5c9c;">La media annuale delle precipitazioni a</div>
<div class="t" style="left:785.0px;top:1530.3px;font-size:19.7px;font-weight:400;color:#0a5c9c;">Kochma è di circa 796 mm. La differenza</div>
<div class="t" style="left:785.0px;top:1553.9px;font-size:19.7px;font-weight:400;color:#0a5c9c;">tra il mese con la massima</div>
<div class="t" style="left:785.0px;top:1577.5px;font-size:19.7px;font-weight:400;color:#0a5c9c;">precipitazione (maggio) e quello con la</div>
<div class="t" style="left:785.0px;top:1601.1px;font-size:19.7px;font-weight:400;color:#0a5c9c;">minima (febbraio) è di 45.6 mm.</div>
<div class="t" style="left:785.0px;top:1647.9px;font-size:19.7px;font-weight:400;color:#0a5c9c;">Le precipitazioni più intense si verificano</div>
<div class="t" style="left:785.0px;top:1671.5px;font-size:19.7px;font-weight:400;color:#0a5c9c;">a maggio, con una quantità mensile di</div>
<div class="t" style="left:785.0px;top:1695.1px;font-size:19.7px;font-weight:400;color:#0a5c9c;">90 mm e una probabilità di</div>
<div class="t" style="left:785.0px;top:1718.7px;font-size:19.7px;font-weight:400;color:#0a5c9c;">precipitazioni di circa il 32%. Al</div>
<div class="t" style="left:785.0px;top:1742.3px;font-size:19.7px;font-weight:400;color:#0a5c9c;">contrario, le precipitazioni più basse si</div>
<div class="t" style="left:785.0px;top:1765.9px;font-size:19.7px;font-weight:400;color:#0a5c9c;">registrano a febbraio, con una media di</div>
<div class="t" style="left:785.0px;top:1789.5px;font-size:19.7px;font-weight:400;color:#0a5c9c;">44 mm e una probabilità dell'16%.</div>
<svg width="1200" height="2140" viewBox="0 0 1200 2140"><clipPath id="pc"><rect x="37.3" y="1870" width="702.7" height="150.7" rx="7"/></clipPath><g clip-path="url(#pc)"><rect x="37.3" y="1870" width="702.7" height="150.7" fill="#b0dcfd"/><rect x="37.3" y="1870" width="702.7" height="30.7" fill="#2e9ddf"/></g><path d="M0,-50.5 C5,-42 21,-22 23.5,-9 A25,25 0 1 1 -23.5,-9 C-21,-22 -5,-42 0,-50.5 Z" transform="translate(67.00,1966)" fill="#2e9ddf"/><path d="M0,-50.5 C5,-42 21,-22 23.5,-9 A25,25 0 1 1 -23.5,-9 C-21,-22 -5,-42 0,-50.5 Z" transform="translate(125.40,1966)" fill="#2e9ddf"/><path d="M0,-50.5 C5,-42 21,-22 23.5,-9 A25,25 0 1 1 -23.5,-9 C-21,-22 -5,-42 0,-50.5 Z" transform="translate(183.80,1966)" fill="#2e9ddf"/><path d="M0,-50.5 C5,-42 21,-22 23.5,-9 A25,25 0 1 1 -23.5,-9 C-21,-22 -5,-42 0,-50.5 Z" transform="translate(242.20,1966)" fill="#005b9f"/><path d="M0,-50.5 C5,-42 21,-22 23.5,-9 A25,25 0 1 1 -23.5,-9 C-21,-22 -5,-42 0,-50.5 Z" transform="translate(300.60,1966)" fill="#005b9f"/><path d="M0,-50.5 C5,-42 21,-22 23.5,-9 A25,25 0 1 1 -23.5,-9 C-21,-22 -5,-42 0,-50.5 Z" transform="translate(359.00,1966)" fill="#005b9f"/><path d="M0,-50.5 C5,-42 21,-22 23.5,-9 A25,25 0 1 1 -23.5,-9 C-21,-22 -5,-42 0,-50.5 Z" transform="translate(417.40,1966)" fill="#005b9f"/><path d="M0,-50.5 C5,-42 21,-22 23.5,-9 A25,25 0 1 1 -23.5,-9 C-21,-22 -5,-42 0,-50.5 Z" transform="translate(475.80,1966)" fill="#2e9ddf"/><path d="M0,-50.5 C5,-42 21,-22 23.5,-9 A25,25 0 1 1 -23.5,-9 C-21,-22 -5,-42 0,-50.5 Z" transform="translate(534.20,1966)" fill="#005b9f"/><path d="M0,-50.5 C5,-42 21,-22 23.5,-9 A25,25 0 1 1 -23.5,-9 C-21,-22 -5,-42 0,-50.5 Z" transform="translate(592.60,1966)" fill="#005b9f"/><path d="M0,-50.5 C5,-42 21,-22 23.5,-9 A25,25 0 1 1 -23.5,-9 C-21,-22 -5,-42 0,-50.5 Z" transform="translate(651.00,1966)" fill="#2e9ddf"/><path d="M0,-50.5 C5,-42 21,-22 23.5,-9 A25,25 0 1 1 -23.5,-9 C-21,-22 -5,-42 0,-50.5 Z" transform="translate(709.40,1966)" fill="#005b9f"/></svg>
<div class="t" style="left:-211.0px;width:1200px;text-align:center;top:1879.2px;font-size:15.9px;font-weight:700;color:#fff;">PROBABILITÀ DI PRECIPITAZIONI</div>
<div class="t" style="left:-533.8px;width:1200px;text-align:center;top:1957.8px;font-size:18px;font-weight:700;color:#fff;">19%</div>
<div class="t" style="left:-534.5px;width:1200px;text-align:center;top:1998.8px;font-size:11.5px;font-weight:700;color:#005b9f;">GEN</div>
<div class="t" style="left:-475.4px;width:1200px;text-align:center;top:1957.8px;font-size:18px;font-weight:700;color:#fff;">16%</div>
<div class="t" style="left:-476.1px;width:1200px;text-align:center;top:1998.8px;font-size:11.5px;font-weight:700;color:#005b9f;">FEB</div>
<div class="t" style="left:-417.0px;width:1200px;text-align:center;top:1957.8px;font-size:18px;font-weight:700;color:#fff;">20%</div>
<div class="t" style="left:-417.7px;width:1200px;text-align:center;top:1998.8px;font-size:11.5px;font-weight:700;color:#005b9f;">MAR</div>
<div class="t" style="left:-358.6px;width:1200px;text-align:center;top:1957.8px;font-size:18px;font-weight:700;color:#fff;">25%</div>
<div class="t" style="left:-359.3px;width:1200px;text-align:center;top:1998.8px;font-size:11.5px;font-weight:700;color:#005b9f;">APR</div>
<div class="t" style="left:-300.2px;width:1200px;text-align:center;top:1957.8px;font-size:18px;font-weight:700;color:#fff;">32%</div>
<div class="t" style="left:-300.9px;width:1200px;text-align:center;top:1998.8px;font-size:11.5px;font-weight:700;color:#005b9f;">MAG</div>
<div class="t" style="left:-241.8px;width:1200px;text-align:center;top:1957.8px;font-size:18px;font-weight:700;color:#fff;">33%</div>
<div class="t" style="left:-242.5px;width:1200px;text-align:center;top:1998.8px;font-size:11.5px;font-weight:700;color:#005b9f;">GIU</div>
<div class="t" style="left:-183.4px;width:1200px;text-align:center;top:1957.8px;font-size:18px;font-weight:700;color:#fff;">33%</div>
<div class="t" style="left:-184.1px;width:1200px;text-align:center;top:1998.8px;font-size:11.5px;font-weight:700;color:#005b9f;">LUG</div>
<div class="t" style="left:-125.0px;width:1200px;text-align:center;top:1957.8px;font-size:18px;font-weight:700;color:#fff;">24%</div>
<div class="t" style="left:-125.7px;width:1200px;text-align:center;top:1998.8px;font-size:11.5px;font-weight:700;color:#005b9f;">AGO</div>
<div class="t" style="left:-66.6px;width:1200px;text-align:center;top:1957.8px;font-size:18px;font-weight:700;color:#fff;">28%</div>
<div class="t" style="left:-67.3px;width:1200px;text-align:center;top:1998.8px;font-size:11.5px;font-weight:700;color:#005b9f;">SET</div>
<div class="t" style="left:-8.2px;width:1200px;text-align:center;top:1957.8px;font-size:18px;font-weight:700;color:#fff;">31%</div>
<div class="t" style="left:-8.9px;width:1200px;text-align:center;top:1998.8px;font-size:11.5px;font-weight:700;color:#005b9f;">OTT</div>
<div class="t" style="left:50.2px;width:1200px;text-align:center;top:1957.8px;font-size:18px;font-weight:700;color:#fff;">22%</div>
<div class="t" style="left:49.5px;width:1200px;text-align:center;top:1998.8px;font-size:11.5px;font-weight:700;color:#005b9f;">NOV</div>
<div class="t" style="left:108.6px;width:1200px;text-align:center;top:1957.8px;font-size:18px;font-weight:700;color:#fff;">27%</div>
<div class="t" style="left:107.9px;width:1200px;text-align:center;top:1998.8px;font-size:11.5px;font-weight:700;color:#005b9f;">DIC</div>
<div class="t" style="left:786.0px;top:1938.0px;font-size:18.6px;font-weight:700;color:#005b9f;">PRECIPITAZIONI PER TIPO</div>
<div class="t" style="left:786.0px;top:1971.3px;font-size:18.6px;font-weight:400;color:#0a5c9c;">• Pioggia: 74%</div>
<div class="t" style="left:786.0px;top:2000.0px;font-size:18.6px;font-weight:400;color:#0a5c9c;">• Neve: 26%</div>
<svg width="1200" height="2140" viewBox="0 0 1200 2140"><rect x="0" y="2083" width="1200" height="57" fill="#005b9f"/><circle cx="57.9" cy="2111.6" r="16.8" fill="none" stroke="#aadcfa" stroke-width="3.2"/><circle cx="106.6" cy="2111.6" r="16.8" fill="none" stroke="#aadcfa" stroke-width="3.2"/><circle cx="155" cy="2111.6" r="16.8" fill="none" stroke="#aadcfa" stroke-width="3.2"/><circle cx="106.6" cy="2101.7" r="2.5" fill="#aadcfa"/><path d="M101.6,2105.7 H111.3 V2113.3 H109.5 V2123.3 H103.7 V2113.3 H101.6 Z" fill="#aadcfa"/><rect x="148" y="2107.3" width="14" height="2.9" fill="#aadcfa"/><rect x="148" y="2112.9" width="14" height="2.9" fill="#aadcfa"/></svg>
<div class="t" style="left:-542.0px;width:1200px;text-align:center;top:2103.9px;font-size:15.5px;font-weight:700;color:#aadcfa;letter-spacing:-0.3px;-webkit-text-stroke:0.8px #aadcfa;">CC</div>
<div class="t" style="left:185.7px;top:2103.8px;font-size:16px;font-weight:700;color:#aadcfa;letter-spacing:0.8px;">CC BY-ND 4.0</div>
<div class="t" style="right:42.2px;text-align:right;top:2102.6px;font-size:22.3px;font-weight:700;color:#fff;letter-spacing:-0.6px;">METEOATLAS.IT</div>
</body></html>
